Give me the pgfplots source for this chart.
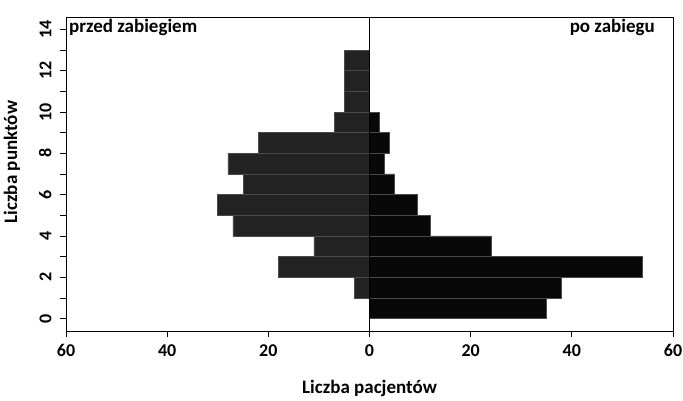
\documentclass[border=0pt]{standalone}
\usepackage{fontspec}
\setmainfont{Carlito}
\usepackage{pgfplots}
\pgfplotsset{compat=1.18}
\definecolor{przed}{HTML}{232323}
\definecolor{po}{HTML}{080808}
\definecolor{edge}{HTML}{4A4A4A}
\begin{document}
\begin{tikzpicture}
\useasboundingbox (-66pt,-70pt) rectangle (617pt,331pt);
\begin{axis}[
    width=607pt, height=314pt,
    scale only axis,
    xmin=-60, xmax=60,
    ymin=-0.6, ymax=14.6,
    xtick={-60,-40,...,60},
    xticklabels={60,40,20,0,20,40,60},
    ytick={0,2,...,14},
    minor ytick={1,3,...,13},
    xtick pos=lower, ytick pos=left,
    tick align=outside,
    major tick length=6pt, minor tick length=6pt,
    tick style={black, line width=0.8pt},
    axis line style={line width=0.9pt},
    /pgf/number format/assume math mode=true,
    ticklabel style={font=\fontsize{18}{21}\selectfont\bfseries},
    xticklabel style={yshift=-4pt},
    yticklabel style={rotate=90, anchor=south, yshift=5pt},
    xlabel={Liczba pacjentów},
    ylabel={Liczba punktów},
    label style={font=\fontsize{19}{22}\selectfont\bfseries},
    xlabel style={yshift=-16pt},
    ylabel style={yshift=12pt, xshift=12pt},
    xbar, bar width=1, bar shift=0pt,
    clip=false,
]
% przed zabiegiem (lewa strona, wartosci ujemne)
\addplot[fill=przed, draw=edge, line width=0.6pt] coordinates {
    (-3,1.5) (-18,2.5) (-11,3.5) (-27,4.5) (-30,5.5) (-25,6.5)
    (-28,7.5) (-22,8.5) (-7,9.5) (-5,10.5) (-5,11.5) (-5,12.5)
};
% po zabiegu
\addplot[fill=po, draw=edge, line width=0.6pt] coordinates {
    (35,0.5) (38,1.5) (54,2.5) (24,3.5) (12,4.5) (9.5,5.5)
    (5,6.5) (3,7.5) (4,8.5) (2,9.5)
};
\draw[black, line width=0.8pt] (axis cs:0,-0.6) -- (axis cs:0,14.6);
\node[anchor=base west, font=\fontsize{19}{22}\selectfont\bfseries, inner sep=0pt]
    at ([xshift=3pt, yshift=-16pt]rel axis cs:0,1) {przed zabiegiem};
\node[anchor=base east, font=\fontsize{19}{22}\selectfont\bfseries, inner sep=0pt]
    at ([xshift=-18pt, yshift=-16pt]rel axis cs:1,1) {po zabiegu};
\end{axis}
\end{tikzpicture}
\end{document}
